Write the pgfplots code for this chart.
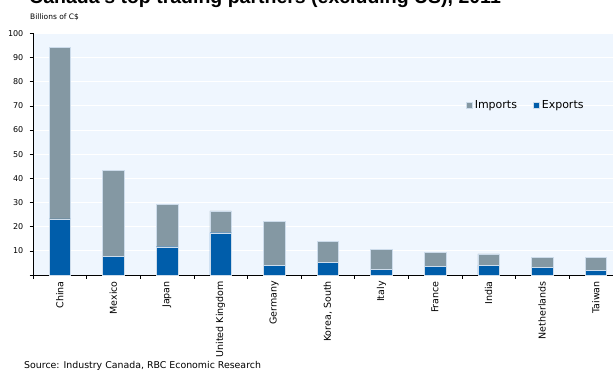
\documentclass[border=0pt]{standalone}
\usepackage{pgfplots}
\pgfplotsset{compat=1.18}
\usepackage{pgfplotstable}
\usepackage{fontspec}
\setmainfont{DejaVu Sans}
\newfontfamily\titlefont{Liberation Sans}
\definecolor{imp}{RGB}{132,152,163}
\definecolor{expc}{RGB}{0,93,170}
\definecolor{plotbg}{RGB}{239,246,254}
\definecolor{baredge}{RGB}{205,220,235}
\pgfplotstableread{
x exp imp
0 23.2 71.1
1 7.6 35.7
2 11.7 17.4
3 17.5 9.0
4 4.0 18.1
5 5.1 8.7
6 2.2 8.4
7 3.6 5.9
8 4.1 4.6
9 3.1 4.2
10 1.9 5.4
}\data
\begin{document}
\begin{tikzpicture}
\useasboundingbox (0pt,0pt) rectangle (613pt,372pt);
\clip (0pt,0pt) rectangle (613pt,372pt);
\node[anchor=base west, inner sep=0pt, font=\titlefont\bfseries\fontsize{19.5}{22}\selectfont] at (29pt,368.5pt) {Canada's top trading partners (excluding US), 2011};
\node[anchor=base west, inner sep=0pt, font=\fontsize{7.5}{9}\selectfont] at (30pt,352.7pt) {Billions of C\$};
\node[anchor=base west, inner sep=0pt, font=\fontsize{9.4}{11}\selectfont] at (24pt,3pt) {Source: Industry Canada, RBC Economic Research};
\begin{axis}[
  at={(33pt,97pt)}, anchor=south west,
  scale only axis, width=589.6pt, height=241.7pt,
  ybar stacked, bar width=21.5pt,
  xmin=-0.5, xmax=10.5, ymin=0, ymax=100,
  axis lines*=left,
  axis line style={black, line width=0.8pt},
  axis background/.style={fill=plotbg},
  ymajorgrids, grid style={white, line width=0.9pt},
  ytick={0,10,...,100},
  yticklabels={,10,20,30,40,50,60,70,80,90,100},
  yticklabel style={font=\fontsize{8}{9}\selectfont, inner sep=0pt, xshift=-6pt},
  xtick={-0.5,0.5,...,10.5},
  xticklabels={},
  extra x ticks={0,1,2,3,4,5,6,7,8,9,10},
  extra x tick labels={China,Mexico,Japan,United Kingdom,Germany,{Korea, South},Italy,France,India,Netherlands,Taiwan},
  extra x tick style={major tick length=0pt, xticklabel style={rotate=90, anchor=east, inner sep=0pt, font=\fontsize{9.5}{11}\selectfont, xshift=-6pt}},
  tick align=outside, major tick length=3.5pt,
  tick style={black, line width=0.6pt},
  /pgf/number format/assume math mode=true,
  legend style={at={(0.734,0.703)}, anchor=west, draw=none, fill=none, inner sep=0pt,
    font=\fontsize{11}{13}\selectfont, legend columns=2,
    /tikz/every even column/.append style={column sep=14pt}},
  legend image code/.code={\fill[#1] (0pt,-3.2pt) rectangle (6.4pt,3.2pt);},
  reverse legend,
]
\addplot[fill=expc, draw=baredge, line width=0.4pt] table[x=x,y=exp]{\data};
\addlegendentry{Exports}
\addplot[fill=imp, draw=baredge, line width=0.4pt] table[x=x,y=imp]{\data};
\addlegendentry{Imports}
\end{axis}
\end{tikzpicture}
\end{document}
